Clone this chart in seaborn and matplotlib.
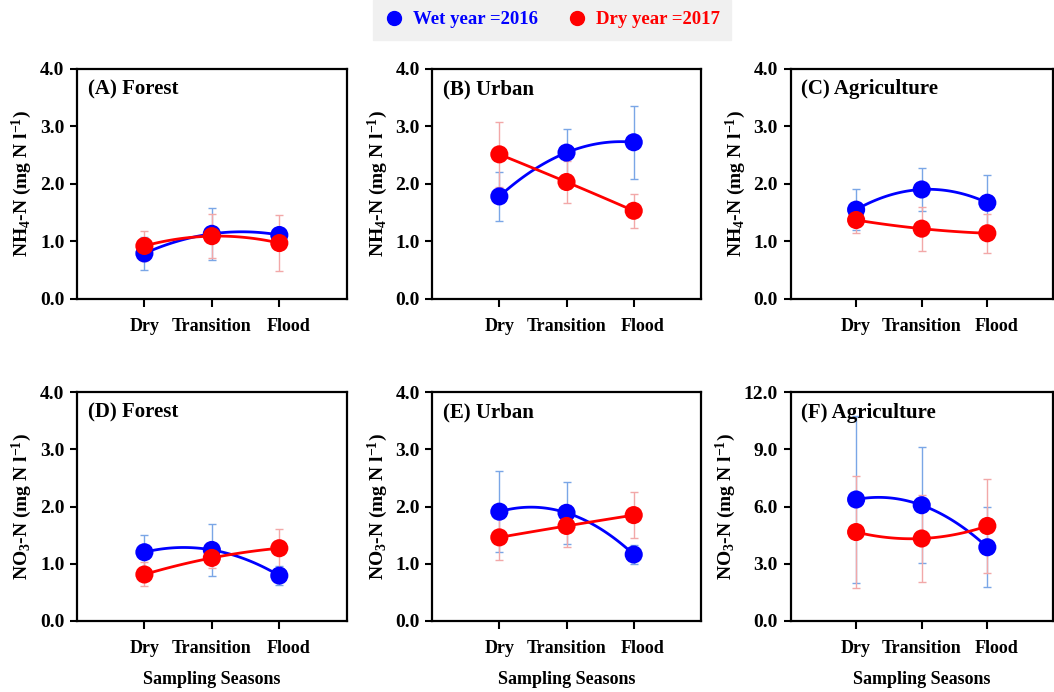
import numpy as np
import pandas as pd
import matplotlib
matplotlib.use('Agg')
import matplotlib.pyplot as plt
import matplotlib.transforms as mtransforms
from matplotlib.lines import Line2D
import seaborn as sns

seasons = ['Dry', 'Transition', 'Flood']
years = ['Wet year =2016', 'Dry year =2017']

# NH4-N (mg N l-1), mean and SD
nh4_forest_wet = [0.79, 1.13, 1.11]
nh4_forest_wet_sd = [0.28, 0.45, 0.10]
nh4_forest_dry = [0.92, 1.09, 0.97]
nh4_forest_dry_sd = [0.26, 0.38, 0.48]
nh4_urban_wet = [1.78, 2.54, 2.72]
nh4_urban_wet_sd = [0.42, 0.41, 0.63]
nh4_urban_dry = [2.51, 2.03, 1.53]
nh4_urban_dry_sd = [0.57, 0.37, 0.30]
nh4_agri_wet = [1.55, 1.90, 1.67]
nh4_agri_wet_sd = [0.36, 0.37, 0.48]
nh4_agri_dry = [1.37, 1.22, 1.14]
nh4_agri_dry_sd = [0.23, 0.38, 0.34]

# NO3-N (mg N l-1), mean and SD
no3_forest_wet = [1.20, 1.24, 0.79]
no3_forest_wet_sd = [0.30, 0.45, 0.16]
no3_forest_dry = [0.81, 1.10, 1.27]
no3_forest_dry_sd = [0.21, 0.17, 0.34]
no3_urban_wet = [1.91, 1.89, 1.16]
no3_urban_wet_sd = [0.71, 0.54, 0.17]
no3_urban_dry = [1.46, 1.66, 1.85]
no3_urban_dry_sd = [0.40, 0.36, 0.40]
no3_agri_wet = [6.37, 6.07, 3.86]
no3_agri_wet_sd = [4.40, 3.05, 2.10]
no3_agri_dry = [4.66, 4.32, 4.98]
no3_agri_dry_sd = [2.95, 2.27, 2.45]

panels = [
    ('(A) Forest', 'NH4', nh4_forest_wet, nh4_forest_wet_sd, nh4_forest_dry, nh4_forest_dry_sd, 4),
    ('(B) Urban', 'NH4', nh4_urban_wet, nh4_urban_wet_sd, nh4_urban_dry, nh4_urban_dry_sd, 4),
    ('(C) Agriculture', 'NH4', nh4_agri_wet, nh4_agri_wet_sd, nh4_agri_dry, nh4_agri_dry_sd, 4),
    ('(D) Forest', 'NO3', no3_forest_wet, no3_forest_wet_sd, no3_forest_dry, no3_forest_dry_sd, 4),
    ('(E) Urban', 'NO3', no3_urban_wet, no3_urban_wet_sd, no3_urban_dry, no3_urban_dry_sd, 4),
    ('(F) Agriculture', 'NO3', no3_agri_wet, no3_agri_wet_sd, no3_agri_dry, no3_agri_dry_sd, 12),
]

sns.set_style('ticks')
plt.rcParams['font.family'] = ['Liberation Serif', 'DejaVu Serif']
plt.rcParams['font.weight'] = 'bold'
plt.rcParams['mathtext.fontset'] = 'custom'
plt.rcParams['mathtext.rm'] = 'Liberation Serif:bold'
plt.rcParams['mathtext.bf'] = 'Liberation Serif:bold'
plt.rcParams['mathtext.it'] = 'Liberation Serif:bold'
for key in ['text.color', 'axes.labelcolor', 'xtick.color', 'ytick.color']:
    plt.rcParams[key] = 'black'

line_col = {'Wet year =2016': 'blue', 'Dry year =2017': 'red'}
err_col = {'Wet year =2016': '#7aa6e6', 'Dry year =2017': '#f2a8a8'}

fig = plt.figure(figsize=(10.54, 6.92), dpi=100)
lefts = [0.073, 0.410, 0.750]
bottoms = [0.568, 0.103]
widths = [0.256, 0.255, 0.249]
shift_flood = mtransforms.ScaledTranslation(0.09, 0, fig.dpi_scale_trans)

for i, (title, ion, wet, wet_sd, dry, dry_sd, ymax) in enumerate(panels):
    row, col = divmod(i, 3)
    ax = fig.add_axes([lefts[col], bottoms[row], widths[col], 0.333 if row == 0 else 0.330])

    df = pd.DataFrame({
        'season': seasons * 2,
        'pos': list(range(3)) * 2,
        'value': wet + dry,
        'sd': wet_sd + dry_sd,
        'year': [years[0]] * 3 + [years[1]] * 3,
    })

    for yr in years:
        sub = df[df['year'] == yr]
        ax.errorbar(sub['pos'], sub['value'], yerr=sub['sd'], fmt='none',
                    ecolor=err_col[yr], elinewidth=1.0, capsize=3, capthick=1.0, zorder=1)
    for yr in years:
        sub = df[df['year'] == yr]
        # smoothed connector through the three means
        coef = np.polyfit(sub['pos'], sub['value'], 2)
        xs = np.linspace(0, 2, 100)
        ax.plot(xs, np.polyval(coef, xs), color=line_col[yr], lw=2, zorder=2)

    sns.scatterplot(data=df, x='pos', y='value', hue='year', palette=line_col,
                    s=170, edgecolor='none', legend=False, ax=ax, zorder=3)

    ax.set_xlim(-1, 3)
    ax.set_ylim(0, ymax)
    ax.set_xticks(range(3))
    ax.set_xticklabels(seasons)
    ticks = np.linspace(0, ymax, 5)
    ax.set_yticks(ticks)
    ax.set_yticklabels(['%.1f' % t for t in ticks])
    ax.tick_params(axis='x', length=6, width=1.5, pad=8, labelsize=13, colors='black')
    ax.tick_params(axis='y', length=5, width=1.5, pad=4, labelsize=14, colors='black')
    lbl = ax.get_xticklabels()[2]
    lbl.set_transform(lbl.get_transform() + shift_flood)
    for sp in ax.spines.values():
        sp.set_linewidth(1.6)
        sp.set_color('black')
        sp.set_visible(True)

    if ion == 'NH4':
        ax.set_ylabel(r'NH$_4$-N (mg N l$^{-1}$)', fontsize=14, fontweight='bold', labelpad=4)
    else:
        ax.set_ylabel(r'NO$_3$-N (mg N l$^{-1}$)', fontsize=14, fontweight='bold', labelpad=4)
    if row == 1:
        ax.set_xlabel('Sampling Seasons', fontsize=13, fontweight='bold', labelpad=10)
    else:
        ax.set_xlabel('')
    ax.text(0.04, 0.91, title, transform=ax.transAxes, fontsize=15,
            fontweight='bold', va='center', ha='left', color='black')

handles = [Line2D([], [], marker='o', ls='none', color=line_col[yr], markersize=10) for yr in years]
leg = fig.legend(handles, years, loc='upper center', bbox_to_anchor=(0.524, 1.0), ncol=2,
                 frameon=True, facecolor='#f0f0f0', edgecolor='#f0f0f0', fancybox=False,
                 prop={'family': 'Liberation Serif', 'weight': 'bold', 'size': 13.5},
                 labelcolor=[line_col[yr] for yr in years], columnspacing=1.6,
                 handlelength=1.0, handletextpad=0.5, borderpad=0.6, borderaxespad=0.0)
leg.get_frame().set_alpha(1)

fig.savefig('out.png', dpi=100)
